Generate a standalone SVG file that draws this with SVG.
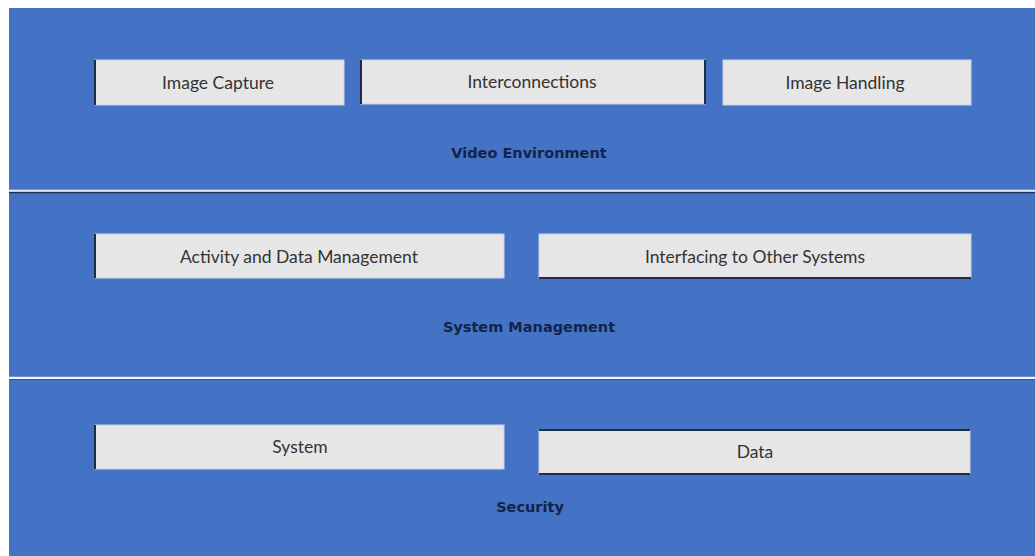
<svg xmlns="http://www.w3.org/2000/svg" width="1035" height="556" viewBox="0 0 1035 556">
<style>
.band{fill:#4472C4}
.box{fill:#E7E6E6;stroke:#C9D3EA;stroke-width:1}
.edge{stroke:#1F2A44;stroke-width:2}
.bt{font-family:Lato,"Liberation Sans",sans-serif;font-size:17.5px;fill:#333333;text-anchor:middle}
.lt{font-family:"DejaVu Sans","Liberation Sans",sans-serif;font-size:14.5px;font-weight:bold;fill:#14234A;text-anchor:middle}
</style>
<rect x="0" y="0" width="1035" height="556" fill="#FFFFFF"/>
<g id="band-video">
<rect class="band" x="9" y="8" width="1026" height="182"/>
<text class="lt" x="529" y="158">Video Environment</text>
</g>
<g id="band-system">
<rect class="band" x="9" y="193" width="1026" height="184"/>
<text class="lt" x="529" y="332">System Management</text>
</g>
<g id="band-security">
<rect class="band" x="9" y="380" width="1026" height="176"/>
<text class="lt" x="530" y="512">Security</text>
</g>
<g id="separators">
<line x1="9" y1="190.5" x2="1035" y2="190.5" stroke="#E8F0FF" stroke-width="1.5"/>
<line x1="9" y1="192.5" x2="1035" y2="192.5" stroke="#1E2E55" stroke-width="1.5"/>
<line x1="9" y1="377.5" x2="1035" y2="377.5" stroke="#E8F0FF" stroke-width="1.5"/>
<line x1="9" y1="379.5" x2="1035" y2="379.5" stroke="#34508F" stroke-width="1"/>
</g>
<g id="image-capture">
<rect class="box" x="95" y="60" width="249" height="45"/>
<line class="edge" x1="95" y1="60" x2="95" y2="105"/>
<text class="bt" x="218" y="89">Image Capture</text>
</g>
<g id="interconnections">
<rect class="box" x="361" y="60" width="344" height="44"/>
<line class="edge" x1="361" y1="60" x2="361" y2="104"/>
<line class="edge" x1="705" y1="60" x2="705" y2="104"/>
<text class="bt" x="532" y="88">Interconnections</text>
</g>
<g id="image-handling">
<rect class="box" x="723" y="60" width="248" height="45"/>
<text class="bt" x="845" y="89">Image Handling</text>
</g>
<g id="activity">
<rect class="box" x="95" y="234" width="409" height="44"/>
<line class="edge" x1="95" y1="234" x2="95" y2="278"/>
<text class="bt" x="299" y="263">Activity and Data Management</text>
</g>
<g id="interfacing">
<rect class="box" x="539" y="234" width="432" height="44"/>
<line class="edge" x1="539" y1="278" x2="971" y2="278"/>
<text class="bt" x="755" y="263">Interfacing to Other Systems</text>
</g>
<g id="system">
<rect class="box" x="95" y="425" width="409" height="44"/>
<line class="edge" x1="95" y1="425" x2="95" y2="469"/>
<text class="bt" x="300" y="453">System</text>
</g>
<g id="data">
<rect class="box" x="539" y="430" width="431" height="44"/>
<line class="edge" x1="539" y1="430" x2="970" y2="430"/>
<line class="edge" x1="539" y1="474" x2="970" y2="474"/>
<text class="bt" x="755" y="458">Data</text>
</g>
</svg>
